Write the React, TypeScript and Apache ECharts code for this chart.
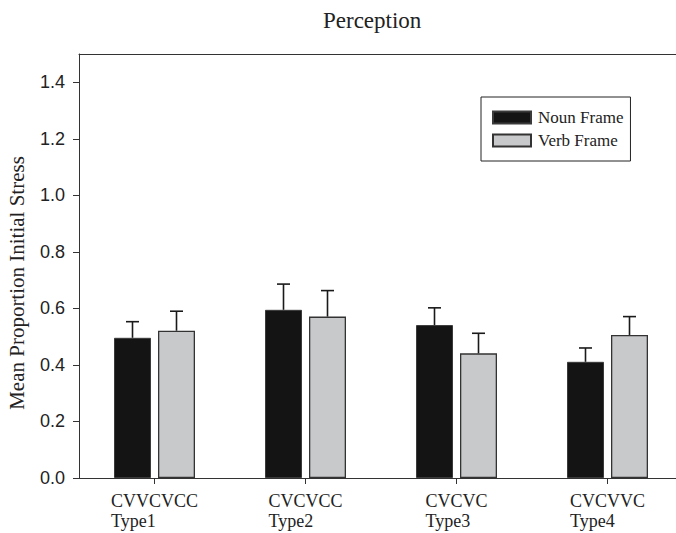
import React, { useEffect, useRef } from "react";
import * as echarts from "echarts";

const categories = ["CVVCVCC", "CVCVCC", "CVCVC", "CVCVVC"];
const typeNames = ["Type1", "Type2", "Type3", "Type4"];
const nounMeans = [0.496, 0.595, 0.541, 0.411];
const nounErrors = [0.057, 0.091, 0.061, 0.049];
const verbMeans = [0.521, 0.571, 0.441, 0.506];
const verbErrors = [0.069, 0.092, 0.071, 0.065];
const yTicks = [0, 0.2, 0.4, 0.6, 0.8, 1.0, 1.2, 1.4];

const BAR_W = 37;
const BAR_GAP = 7;
const SERIF = "'Liberation Serif', 'Times New Roman', serif";

function errorSeries(name: string, means: number[], errs: number[], side: number) {
  return {
    type: "custom",
    name: name + " err",
    z: 5,
    silent: true,
    data: means.map((m, i) => [i, m, m + errs[i]]),
    renderItem: (params: any, api: any) => {
      const off = side * (BAR_W + BAR_GAP) / 2;
      const p0 = api.coord([api.value(0), api.value(1)]);
      const p1 = api.coord([api.value(0), api.value(2)]);
      const x = p0[0] + off;
      const style = { stroke: "#1a1a1a", lineWidth: 1.6 };
      return {
        type: "group",
        children: [
          { type: "line", shape: { x1: x, y1: p0[1], x2: x, y2: p1[1] }, style },
          { type: "line", shape: { x1: x - 6.5, y1: p1[1], x2: x + 6.5, y2: p1[1] }, style },
        ],
      };
    },
  };
}

export default function App() {
  const ref = useRef<HTMLDivElement>(null);
  useEffect(() => {
    if (!ref.current) return;
    const chart = echarts.init(ref.current, undefined, { renderer: "svg" });
    chart.setOption({
      animation: false,
      backgroundColor: "#ffffff",
      title: {
        text: "Perception",
        left: 318,
        top: 4,
        textStyle: { fontFamily: SERIF, fontSize: 23, fontWeight: "normal", color: "#222" },
      },
      graphic: [
        {
          type: "text",
          x: 17,
          y: 283,
          rotation: Math.PI / 2,
          style: {
            text: "Mean Proportion Initial Stress",
            fontFamily: SERIF,
            fontSize: 21,
            fill: "#222",
            align: "center",
            verticalAlign: "middle",
          },
        },
      ],
      legend: {
        orient: "vertical",
        left: 481,
        top: 97,
        padding: [12, 7, 12, 11],
        itemGap: 6,
        itemWidth: 38,
        itemHeight: 12,
        icon: "rect",
        borderColor: "#222",
        borderWidth: 1,
        data: ["Noun Frame", "Verb Frame"],
        textStyle: {
          fontFamily: SERIF,
          fontSize: 17,
          lineHeight: 17,
          color: "#222",
          padding: [0, 0, 0, 2],
        },
      },
      grid: {
        left: 79,
        top: 54,
        right: 7,
        bottom: 55,
        show: false,
        containLabel: false,
      },
      xAxis: [
        {
          type: "category",
          data: categories,
          axisLine: { show: true, lineStyle: { color: "#333", width: 1 } },
          axisTick: {
            show: true,
            alignWithLabel: true,
            interval: 0,
            length: 6,
            lineStyle: { color: "#333", width: 1 },
          },
          axisLabel: {
            interval: 0,
            margin: 13,
            color: "#222",
            fontFamily: SERIF,
            fontSize: 18,
            lineHeight: 20,
            align: "center",
            formatter: (v: string, i: number) => `{a|${v}}\n{a|${typeNames[i]}}`,
            rich: {
              a: { align: "left", fontFamily: SERIF, fontSize: 18, lineHeight: 20, color: "#222" },
            },
          },
        },
        {
          type: "category",
          position: "top",
          data: categories,
          axisLine: { show: true, lineStyle: { color: "#333", width: 1 } },
          axisTick: { show: false },
          axisLabel: { show: false },
          splitLine: { show: false },
        },
      ],
      yAxis: {
        type: "value",
        min: 0,
        max: 1.5,
        interval: 0.1,
        splitLine: { show: false },
        axisLine: { show: true, lineStyle: { color: "#333", width: 1 } },
        axisTick: { show: true, length: 6, lineStyle: { color: "#333" }, customValues: yTicks },
        axisLabel: {
          margin: 14,
          color: "#222",
          fontFamily: "'Liberation Sans', Arial, sans-serif",
          fontSize: 18,
          customValues: yTicks,
          formatter: (v: number) => v.toFixed(1),
        },
      },
      series: [
        {
          type: "bar",
          name: "Noun Frame",
          data: nounMeans,
          barWidth: BAR_W,
          barGap: (BAR_GAP / BAR_W) * 100 + "%",
          itemStyle: { color: "#141414", borderColor: "#3a3a3a", borderWidth: 1 },
        },
        {
          type: "bar",
          name: "Verb Frame",
          data: verbMeans,
          barWidth: BAR_W,
          itemStyle: { color: "#c8c9cb", borderColor: "#333", borderWidth: 1.3 },
        },
        errorSeries("Noun Frame", nounMeans, nounErrors, -1),
        errorSeries("Verb Frame", verbMeans, verbErrors, 1),
      ],
    });
    return () => chart.dispose();
  }, []);
  return (
    <div
      style={{
        position: "fixed",
        left: 0,
        top: 0,
        width: 676,
        height: 533,
        overflow: "hidden",
        background: "#fff",
      }}
    >
      <div ref={ref} style={{ width: 690, height: 533 }} />
    </div>
  );
}
